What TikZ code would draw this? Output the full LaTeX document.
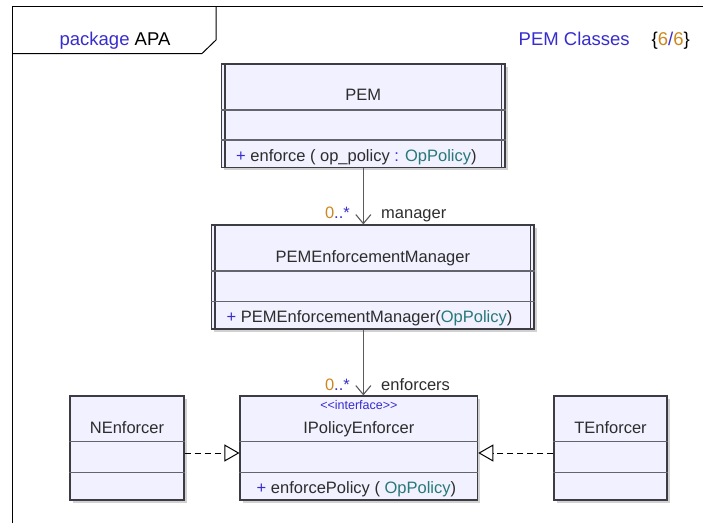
\documentclass[tikz,border=0pt]{standalone}
\usepackage{fontspec}
\setmainfont{Liberation Sans}
\usepackage{xcolor}
\usetikzlibrary{shapes}
\usetikzlibrary{positioning}
\usetikzlibrary{arrows.meta}
\usetikzlibrary{shadows}

\definecolor{umlfill}{RGB}{241,241,255}
\definecolor{umlline}{RGB}{60,60,66}
\definecolor{umlsep}{RGB}{100,100,108}
\definecolor{umlblue}{RGB}{55,45,205}
\definecolor{umlorange}{RGB}{204,136,30}
\definecolor{umlteal}{RGB}{40,120,120}
\definecolor{umltext}{RGB}{45,45,45}

\tikzset{
  classbox/.style={draw=umlline,fill=umlfill,line width=1.1pt,inner sep=0pt,
    drop shadow={shadow xshift=2.5pt,shadow yshift=-2.5pt,fill=black!18,opacity=1}},
  sep/.style={draw=umlsep,line width=1.1pt},
  uml/.style={font=\fontsize{16.5}{19}\selectfont,text=umltext,inner sep=0pt},
  head/.style={font=\fontsize{18.5}{22}\selectfont,inner sep=0pt},
  stereo/.style={font=\fontsize{12.5}{15}\selectfont,text=umlblue,inner sep=0pt},
  assoc/.style={draw=umlline!85,line width=1.1pt,-{Straight Barb[length=9pt,width=15pt,line width=1.1pt]}},
  realize/.style={draw=black,line width=1pt,dash pattern=on 6pt off 4pt,
    -{Triangle[open,length=15pt,width=17pt,line width=1pt,fill=white]}},
}

\newcommand{\plus}{\textcolor{umlblue}{+}}
\newcommand{\oppol}{\textcolor{umlteal}{OpPolicy}}
\newcommand{\mult}{\textcolor{umlorange}{0}\textcolor{umlblue}{..*}}

\begin{document}
\begin{tikzpicture}[x=1pt,y=-1pt]
    \useasboundingbox (0,0) rectangle (703,523);

    % diagram frame and package tab
    \draw[black,line width=1pt] (12.5,523) -- (12.5,6) -- (703,6);
    \draw[black,line width=1pt] (12.5,53.5) -- (202,53.5) -- (216,40) -- (216,6);
    \node[head,anchor=base] (pkg) at (115,45) {\textcolor{umlblue}{package} APA};
    \node[head,anchor=base east] (title) at (690,45)
        {\textcolor{umlblue}{PEM Classes}\hspace{22pt}\{\textcolor{umlorange}{6}\textcolor{umlblue}{/}\textcolor{umlorange}{6}\}};

    % classes
    \node[classbox,minimum width=283.3pt,minimum height=103.7pt] (PEM) at (363.35,115.85) {};
    \node[classbox,minimum width=322.3pt,minimum height=104pt] (PEMManager) at (372.85,277) {};
    \node[classbox,minimum width=237.7pt,minimum height=104pt] (IPolicy) at (358.85,448) {};
    \node[classbox,minimum width=114pt,minimum height=104pt] (NEnf) at (127,448) {};
    \node[classbox,minimum width=113pt,minimum height=104pt] (TEnf) at (610.5,448) {};

    % active class borders
    \draw[umlline,line width=1.1pt] (225,64) -- (225,167.7);
    \draw[umlline,line width=1.1pt] (501.7,64) -- (501.7,167.7);
    \draw[umlline,line width=1.1pt] (215,225) -- (215,329);
    \draw[umlline,line width=1.1pt] (530.7,225) -- (530.7,329);

    % compartments
    \draw[sep] (PEM.west |- 0,110) -- (PEM.east |- 0,110);
    \draw[sep] (PEM.west |- 0,140) -- (PEM.east |- 0,140);
    \draw[sep] (PEMManager.west |- 0,271) -- (PEMManager.east |- 0,271);
    \draw[sep] (PEMManager.west |- 0,301.7) -- (PEMManager.east |- 0,301.7);
    \foreach \c in {NEnf,IPolicy,TEnf} {
        \draw[sep] (\c.west |- 0,441.7) -- (\c.east |- 0,441.7);
        \draw[sep] (\c.west |- 0,472.7) -- (\c.east |- 0,472.7);
    }

    % names and operations
    \node[uml,anchor=base] (PEMname) at (363.35,100.7) {PEM};
    \node[uml,anchor=base west] (PEMop) at (236,161.7)
        {\plus{} enforce ( op\_policy \textcolor{umlblue}{:} \oppol)};
    \node[uml,anchor=base] (PEMManagername) at (372.85,262.3) {PEMEnforcementManager};
    \node[uml,anchor=base west] (PEMManagerop) at (226.5,322.3)
        {\plus{} PEMEnforcementManager(\oppol)};
    \node[stereo,anchor=base] (IPolicystereo) at (358.85,409.3) {<{}<interface>{}>};
    \node[uml,anchor=base] (IPolicyname) at (358.85,433.3) {IPolicyEnforcer};
    \node[uml,anchor=base west] (IPolicyop) at (256.5,493)
        {\plus{} enforcePolicy ( \oppol)};
    \node[uml,anchor=base] (NEnfname) at (127,433.3) {NEnforcer};
    \node[uml,anchor=base] (TEnfname) at (610.5,433.3) {TEnforcer};

    % associations
    \draw[assoc] (PEM.south) -- (PEM.south |- PEMManager.north);
    \node[uml,anchor=base east] (m1) at (350,218.3) {\mult};
    \node[uml,anchor=base west] (r1) at (381,218.3) {manager};
    \draw[assoc] (PEM.south |- PEMManager.south) -- (PEM.south |- IPolicy.north);
    \node[uml,anchor=base east] (m2) at (350,390) {\mult};
    \node[uml,anchor=base west] (r2) at (381,390) {enforcers};

    % realizations
    \draw[realize] ([yshift=-5pt]NEnf.east) -- ([yshift=-5pt]IPolicy.west);
    \draw[realize] ([yshift=-5pt]TEnf.west) -- ([yshift=-5pt]IPolicy.east);
\end{tikzpicture}
\end{document}
